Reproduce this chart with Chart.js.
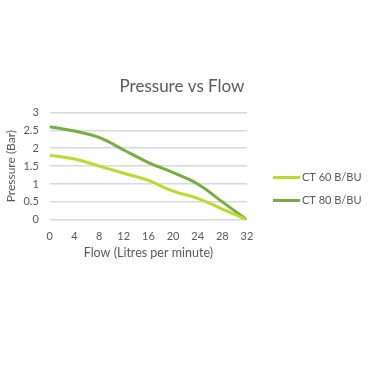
<!DOCTYPE html>
<html>
<head>
<meta charset="utf-8">
<script src="https://cdn.jsdelivr.net/npm/chart.js@4.4.0/dist/chart.umd.min.js"></script>
<style>
  html, body { margin: 0; padding: 0; background: #fff; }
  #wrap { width: 372px; height: 372px; position: relative; }
</style>
</head>
<body>
<div id="wrap"><canvas id="pressureChart"></canvas></div>
<script>
  // Flow (litres per minute) on the x axis
  const flow = [0, 4, 8, 12, 16, 20, 24, 28, 32];
  // Pressure (bar)
  const ct60 = [1.8, 1.7, 1.5, 1.3, 1.1, 0.8, 0.6, 0.3, 0];
  const ct80 = [2.6, 2.48, 2.3, 1.95, 1.6, 1.32, 1.0, 0.5, 0];
  const seriesNames = ["CT 60 B/BU", "CT 80 B/BU"];
  const xTicks = [0, 4, 8, 12, 16, 20, 24, 28, 32];
  const yTicks = [0, 0.5, 1, 1.5, 2, 2.5, 3];

  const textGrey = "#595959";
  const font = "Lato";

  function toPoints(ys) {
    return flow.map(function (x, i) { return { x: x, y: ys[i] }; });
  }

  function lineSet(label, data, colour) {
    return {
      label: label,
      data: toPoints(data),
      borderColor: colour,
      backgroundColor: colour,
      borderWidth: 3,
      tension: 0.4,
      pointRadius: 0,
      fill: false
    };
  }

  // The built-in legend gets squeezed on the right (its max width is shared with the y axis),
  // so add our own box on the right side of the layout and draw a line legend in it.
  const sideLegend = {
    id: "sideLegend",
    beforeInit: function (chart) {
      const box = {
        position: "right",
        weight: 1000,
        fullSize: false,
        options: { display: true },
        left: 0, top: 0, right: 0, bottom: 0, width: 0, height: 0,
        isHorizontal: function () { return false; },
        update: function (maxWidth, maxHeight) {
          this.width = 113;
          this.height = maxHeight;
        },
        draw: function () {
          const ctx = chart.ctx;
          const x0 = this.left + 26;
          const mid = chart.height / 2 + 3;
          const gap = 23;
          const sets = chart.data.datasets;
          ctx.save();
          ctx.font = "11px " + font;
          ctx.textBaseline = "middle";
          ctx.textAlign = "left";
          sets.forEach(function (ds, i) {
            const y = mid + (i - (sets.length - 1) / 2) * gap;
            ctx.strokeStyle = ds.borderColor;
            ctx.lineWidth = 3;
            ctx.beginPath();
            ctx.moveTo(x0, y);
            ctx.lineTo(x0 + 27, y);
            ctx.stroke();
            ctx.fillStyle = textGrey;
            ctx.fillText(ds.label, x0 + 29, y);
          });
          ctx.restore();
        }
      };
      Chart.layouts.addBox(chart, box);
    }
  };

  function draw() {
    new Chart(document.getElementById("pressureChart"), {
      type: "line",
      data: {
        datasets: [
          lineSet(seriesNames[0], ct60, "#bed82e"),
          lineSet(seriesNames[1], ct80, "#77ad3d")
        ]
      },
      plugins: [sideLegend],
      options: {
        responsive: true,
        maintainAspectRatio: false,
        animation: false,
        layout: { padding: { top: 76, right: 12, bottom: 112, left: 4 } },
        plugins: {
          title: {
            display: true,
            text: "Pressure vs Flow",
            color: textGrey,
            font: { family: font, size: 17, weight: "normal" },
            padding: { top: 0, bottom: 16 }
          },
          legend: { display: false },
          tooltip: { enabled: false }
        },
        scales: {
          x: {
            type: "linear",
            min: 0,
            max: 32,
            afterBuildTicks: function (axis) {
              axis.ticks = xTicks.map(function (v) { return { value: v }; });
            },
            grid: { display: false, drawTicks: false },
            border: { display: false },
            ticks: { color: textGrey, font: { family: font, size: 11 }, padding: 10 },
            title: {
              display: true,
              text: "Flow (Litres per minute)",
              color: textGrey,
              font: { family: font, size: 12.5 },
              padding: { top: -8, bottom: 0 }
            }
          },
          y: {
            min: 0,
            max: 3,
            afterBuildTicks: function (axis) {
              axis.ticks = yTicks.map(function (v) { return { value: v }; });
            },
            grid: { color: "#d9d9d9", lineWidth: 1.5, drawTicks: false },
            border: { display: false },
            ticks: {
              color: textGrey,
              font: { family: font, size: 11 },
              padding: 11,
              callback: function (v) { return String(v); }
            },
            title: {
              display: true,
              text: "Pressure (Bar)",
              color: textGrey,
              font: { family: font, size: 12 },
              padding: { top: 0, bottom: -6 }
            }
          }
        }
      }
    });
  }

  // make sure the font is ready before anything is measured
  if (document.fonts && document.fonts.load) {
    document.fonts.load("11px " + font).then(draw, draw);
  } else {
    draw();
  }
</script>
</body>
</html>
